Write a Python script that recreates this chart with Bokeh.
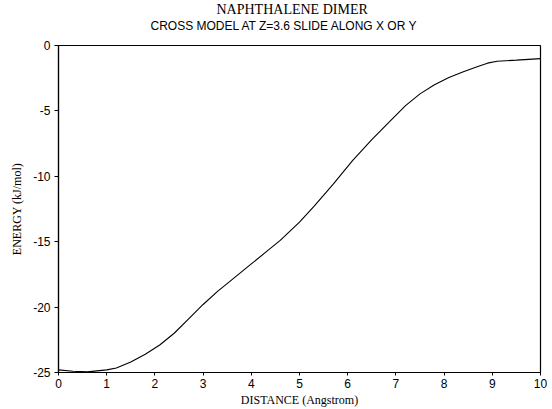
from bokeh.plotting import figure
from bokeh.models import Range1d, FixedTicker, Title
from bokeh.embed import file_html
from bokeh.resources import INLINE

distance = [0.0, 0.3, 0.6, 1.0, 1.2, 1.5, 1.8, 2.1, 2.4, 2.7, 3.0, 3.3, 3.6,
            4.0, 4.3, 4.6, 5.0, 5.3, 5.7, 6.1, 6.5, 6.9, 7.2, 7.5, 7.8, 8.1,
            8.4, 8.7, 8.9, 9.1, 9.5, 10.0]
energy = [-24.8, -24.9, -24.95, -24.8, -24.65, -24.2, -23.6, -22.9, -22.0,
          -20.9, -19.8, -18.8, -17.9, -16.7, -15.8, -14.9, -13.5, -12.3,
          -10.6, -8.8, -7.2, -5.7, -4.6, -3.7, -3.0, -2.45, -2.0, -1.6,
          -1.35, -1.2, -1.12, -1.0]
x_ticks = [0, 1, 2, 3, 4, 5, 6, 7, 8, 9, 10]
y_ticks = [0, -5, -10, -15, -20, -25]
y_tick_labels = ["0", "-5", "-10", "-15", "-20", "-25"]

title_text = "NAPHTHALENE DIMER"
subtitle_text = "CROSS MODEL AT Z=3.6 SLIDE ALONG X OR Y"
x_label_text = "DISTANCE (Angstrom)"
y_label_text = "ENERGY (kJ/mol)"

p = figure(width=552, height=409, output_backend="svg", toolbar_location=None,
           x_range=Range1d(0, 10), y_range=Range1d(-25, 0),
           min_border_left=58, min_border_right=12, min_border_top=45,
           min_border_bottom=36)

p.line(distance, energy, line_color="black", line_width=1.1)

p.xgrid.visible = False
p.ygrid.visible = False
p.outline_line_color = "black"
p.outline_line_width = 1.2
p.background_fill_color = "white"
p.border_fill_color = "white"

for ax in (p.xaxis[0], p.yaxis[0]):
    ax.axis_line_color = "black"
    ax.axis_line_width = 1.2
    ax.major_tick_line_color = "black"
    ax.major_tick_in = 0
    ax.minor_tick_line_color = None
    ax.major_label_text_font = "Liberation Sans"
    ax.major_label_text_font_size = "12px"
    ax.major_label_text_color = "black"
    ax.axis_label_text_font = "Liberation Serif"
    ax.axis_label_text_font_style = "normal"
    ax.axis_label_text_color = "black"

p.xaxis[0].ticker = FixedTicker(ticks=x_ticks)
p.yaxis[0].ticker = FixedTicker(ticks=y_ticks)
p.yaxis[0].major_label_overrides = dict(zip(y_ticks, y_tick_labels))
p.xaxis[0].major_tick_out = 3
p.xaxis[0].major_label_standoff = 3
p.xaxis[0].axis_label = x_label_text
p.xaxis[0].axis_label_text_font_size = "12px"
p.xaxis[0].axis_label_standoff = 2
p.yaxis[0].major_tick_out = 4
p.yaxis[0].major_label_standoff = 4
p.yaxis[0].axis_label = y_label_text
p.yaxis[0].axis_label_text_font_size = "12px"
p.yaxis[0].axis_label_standoff = 6

sub = Title(text=subtitle_text, align="left",
            text_font="Liberation Sans", text_font_size="12px",
            text_font_style="normal", text_color="black", standoff=25, offset=92)
main = Title(text=title_text, align="left",
             text_font="Liberation Serif", text_font_size="14px",
             text_font_style="normal", text_color="black", standoff=-24, offset=158)
p.add_layout(sub, "above")
p.add_layout(main, "above")

open("out.html", "w").write(file_html(p, INLINE))
